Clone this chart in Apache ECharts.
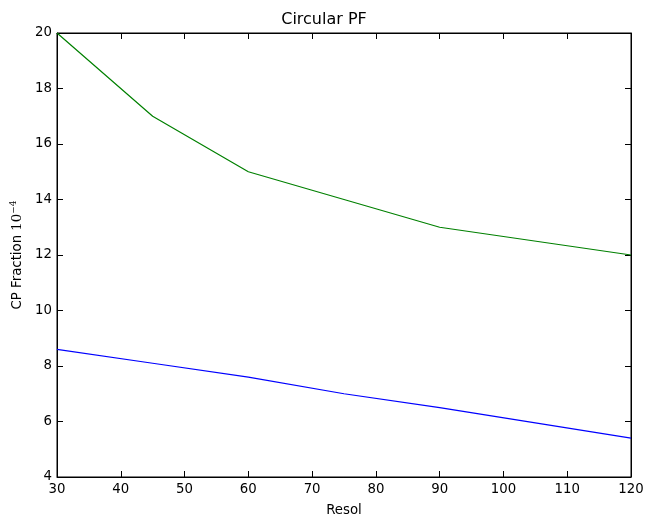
<!DOCTYPE html>
<html>
<head>
<meta charset="utf-8">
<script src="https://cdn.jsdelivr.net/npm/echarts@6/dist/echarts.min.js"></script>
<style>
  html, body { margin: 0; padding: 0; background: #fff; }
  #chart { width: 648px; height: 516px; }
</style>
</head>
<body>
<div id="chart"></div>
<script>
const resol = [30, 45, 60, 75, 90, 120];
const greenVals = [20, 17, 15, 14, 13, 12];
const blueVals = [8.6, 8.1, 7.6, 7.0, 6.5, 5.4];

const font = 'DejaVu Sans';
const zip = (xs, ys) => xs.map((x, i) => [x, ys[i]]);

const tickStyle = { show: true, inside: true, length: 6, lineStyle: { color: '#000', width: 1 } };
const lineStyle = { show: true, lineStyle: { color: '#000', width: 1 } };

const chart = echarts.init(document.getElementById('chart'));
chart.setOption({
  animation: false,
  title: {
    text: 'Circular PF',
    left: 'center',
    top: 7,
    textStyle: { fontFamily: font, fontSize: 16, fontWeight: 'normal', color: '#000' }
  },
  grid: {
    left: 57, right: 17, top: 33, bottom: 39,
    outerBoundsMode: 'none', containLabel: false,
    show: true, borderColor: '#000', borderWidth: 1
  },
  xAxis: [
    {
      type: 'value', min: 30, max: 120, interval: 10,
      name: 'Resol', nameLocation: 'middle', nameGap: 27,
      nameTextStyle: { fontFamily: font, fontSize: 13.3, color: '#000' },
      axisLine: lineStyle, axisTick: tickStyle, splitLine: { show: false },
      axisLabel: { fontFamily: font, fontSize: 13.3, color: '#000', margin: 6 }
    },
    {
      type: 'value', min: 30, max: 120, interval: 10, position: 'top',
      axisLine: lineStyle, axisTick: tickStyle, splitLine: { show: false },
      axisLabel: { show: false }
    }
  ],
  yAxis: [
    {
      type: 'value', min: 4, max: 20, interval: 2,
      name: '{a|CP Fraction }{b|10}{c|−4}', nameLocation: 'middle', nameGap: 29,
      nameTextStyle: {
        rich: {
          a: { fontFamily: font, fontSize: 13.3, color: '#000' },
          b: { fontFamily: 'DejaVu Serif', fontSize: 13.3, color: '#000' },
          c: { fontFamily: 'DejaVu Serif', fontSize: 9, color: '#000', verticalAlign: 'top', padding: [0, 0, 8, 0] }
        }
      },
      axisLine: lineStyle, axisTick: tickStyle, splitLine: { show: false },
      axisLabel: { fontFamily: font, fontSize: 13.3, color: '#000', margin: 5 }
    },
    {
      type: 'value', min: 4, max: 20, interval: 2, position: 'right',
      axisLine: lineStyle, axisTick: tickStyle, splitLine: { show: false },
      axisLabel: { show: false }
    }
  ],
  series: [
    {
      type: 'line', data: zip(resol, greenVals), showSymbol: false,
      lineStyle: { color: '#008000', width: 1.2 }, itemStyle: { color: '#008000' }
    },
    {
      type: 'line', data: zip(resol, blueVals), showSymbol: false,
      lineStyle: { color: '#0000ff', width: 1.2 }, itemStyle: { color: '#0000ff' }
    }
  ]
});
</script>
</body>
</html>
